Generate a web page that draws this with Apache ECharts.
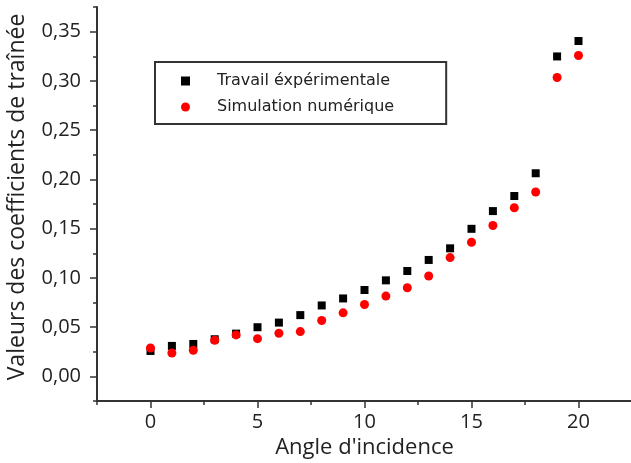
<!DOCTYPE html>
<html>
<head>
<meta charset="utf-8">
<script src="https://cdn.jsdelivr.net/npm/echarts@6/dist/echarts.min.js"></script>
<style>
  html, body { margin: 0; padding: 0; background: #fff; }
  #chart { width: 631px; height: 463px; }
</style>
</head>
<body>
<div id="chart"></div>
<script>
// Angle of incidence (degrees)
const angles = [0, 1, 2, 3, 4, 5, 6, 7, 8, 9, 10, 11, 12, 13, 14, 15, 16, 17, 18, 19, 20];

// Drag coefficient, experimental measurements
const experimental = [0.0258, 0.0309, 0.0329, 0.0377, 0.0434, 0.0499, 0.0546, 0.0622, 0.0720, 0.0791,
  0.0877, 0.0975, 0.1070, 0.1182, 0.1300, 0.1498, 0.1678, 0.1831, 0.2062, 0.3248, 0.3405];

// Drag coefficient, numerical simulation
const simulation = [0.0288, 0.0237, 0.0265, 0.0367, 0.0421, 0.0383, 0.0438, 0.0455, 0.0567, 0.0645,
  0.0730, 0.0815, 0.0900, 0.1019, 0.1206, 0.1362, 0.1532, 0.1712, 0.1872, 0.3034, 0.3258];

// Axis ticks
const xMajorTicks = [0, 5, 10, 15, 20];
const xMinorTicks = [-2.5, 2.5, 7.5, 12.5, 17.5, 22.5];
const yMajorTicks = [0, 0.05, 0.10, 0.15, 0.20, 0.25, 0.30, 0.35];
const yMinorTicks = [-0.025, 0.025, 0.075, 0.125, 0.175, 0.225, 0.275, 0.325, 0.375];

const seriesNames = ['Travail éxpérimentale', 'Simulation numérique'];

const X_RANGE = { min: -2.5, max: 22.5 };
const Y_RANGE = { min: -0.025, max: 0.375 };

const toPairs = (ys) => angles.map((a, i) => [a, ys[i]]);
const axisColor = '#333';
const labelFont = { fontFamily: 'Open Sans', fontSize: 20, color: '#222' };

// Tick-only axis laid over the main one (major or minor ticks)
function tickAxis(range, values, length, position) {
  return Object.assign({
    type: 'value',
    position: position,
    axisLine: { show: false, onZero: false },
    axisTick: { show: true, inside: false, length: length, customValues: values,
                lineStyle: { color: axisColor, width: 1.5 } },
    axisLabel: { show: false },
    splitLine: { show: false }
  }, range);
}

const chart = echarts.init(document.getElementById('chart'), null, { renderer: 'canvas' });

chart.setOption({
  animation: false,
  backgroundColor: '#fff',
  grid: { left: 97, right: -1, top: 7, bottom: 62, containLabel: false, outerBoundsMode: 'none' },
  legend: {
    orient: 'vertical',
    left: 155,
    top: 62,
    backgroundColor: '#fff',
    borderColor: '#333',
    borderWidth: 2,
    borderRadius: 0,
    padding: [10, 52, 8, 26],
    itemWidth: 9,
    itemHeight: 9,
    itemGap: 8,
    textStyle: { fontFamily: 'DejaVu Sans', fontSize: 16, lineHeight: 18, color: '#222', padding: [0, 0, 0, 22] },
    data: [
      { name: seriesNames[0], icon: 'rect' },
      { name: seriesNames[1], icon: 'circle' }
    ]
  },
  xAxis: [
    Object.assign({
      type: 'value',
      name: "Angle d'incidence",
      nameLocation: 'middle',
      nameGap: 33,
      nameTextStyle: { fontFamily: 'Open Sans', fontSize: 22, color: '#222' },
      axisLine: { show: true, onZero: false, lineStyle: { color: axisColor, width: 2 } },
      axisTick: { show: false },
      axisLabel: Object.assign({ customValues: xMajorTicks, margin: 11 }, labelFont),
      splitLine: { show: false }
    }, X_RANGE),
    tickAxis(X_RANGE, xMajorTicks, 7, 'bottom'),
    tickAxis(X_RANGE, xMinorTicks, 4, 'bottom')
  ],
  yAxis: [
    Object.assign({
      type: 'value',
      name: 'Valeurs des coefficients de traînée',
      nameLocation: 'middle',
      nameGap: 68,
      nameRotate: 90,
      nameTextStyle: { fontFamily: 'Open Sans', fontSize: 23, color: '#222', padding: [0, 0, 0, 14] },
      axisLine: { show: true, onZero: false, lineStyle: { color: axisColor, width: 2 } },
      axisTick: { show: false },
      axisLabel: Object.assign({
        customValues: yMajorTicks,
        margin: 16,
        formatter: (v) => v.toFixed(2).replace('.', ',')
      }, labelFont),
      splitLine: { show: false }
    }, Y_RANGE),
    tickAxis(Y_RANGE, yMajorTicks, 7, 'left'),
    tickAxis(Y_RANGE, yMinorTicks, 4, 'left')
  ],
  series: [
    {
      name: seriesNames[0],
      type: 'scatter',
      xAxisIndex: 0,
      yAxisIndex: 0,
      symbol: 'rect',
      symbolSize: 8,
      itemStyle: { color: '#000', opacity: 1 },
      data: toPairs(experimental),
      z: 2
    },
    {
      name: seriesNames[1],
      type: 'scatter',
      xAxisIndex: 0,
      yAxisIndex: 0,
      symbol: 'circle',
      symbolSize: 9,
      itemStyle: { color: '#ff0000', opacity: 1 },
      data: toPairs(simulation),
      z: 3
    }
  ]
});
</script>
</body>
</html>
